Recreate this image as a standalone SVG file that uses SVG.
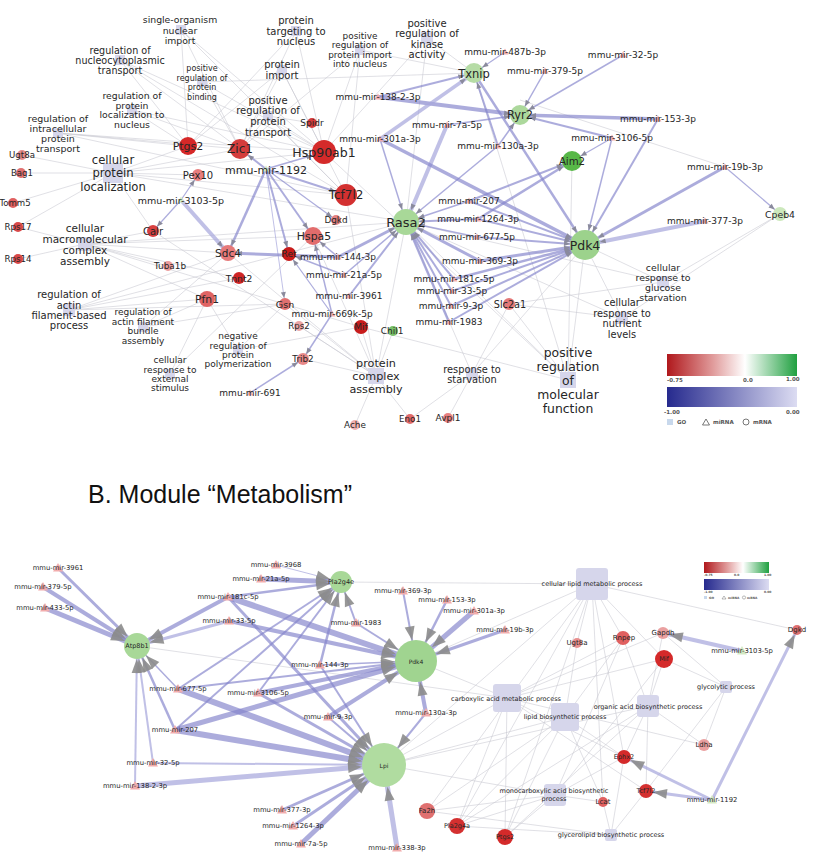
<svg xmlns="http://www.w3.org/2000/svg" xmlns:xlink="http://www.w3.org/1999/xlink" width="813" height="852" viewBox="0 0 813 852">
<style>
.t{font-family:"DejaVu Sans","Liberation Sans",sans-serif;fill:#262626;text-anchor:middle;dominant-baseline:central}
.e{stroke:#c8c8d0;stroke-width:0.7;fill:none;opacity:.8}
.m{stroke:#8484cc;stroke-opacity:.68;fill:none}
.ml{stroke:#a8a8dc;stroke-opacity:.72;fill:none}
.go{fill:#d6d6eb}
.mi{fill:#f2acac}
.mg{fill:#d4e9c4}
.lg{font-family:"DejaVu Sans",sans-serif;font-weight:bold;fill:#555}
</style>
<defs>
<path id="tri" d="M0,-3.5L3.5,2.5H-3.5Z"/>
<path id="triB" d="M0,-5L5,3.5H-5Z"/>
<marker id="t5" markerWidth="6" markerHeight="5" refX="11" refY="2.5" orient="auto" markerUnits="userSpaceOnUse" overflow="visible"><path d="M0,0L6,2.5L0,5z" fill="#8a8a9c"/></marker>
<marker id="t6" markerWidth="6" markerHeight="5" refX="12" refY="2.5" orient="auto" markerUnits="userSpaceOnUse" overflow="visible"><path d="M0,0L6,2.5L0,5z" fill="#8a8a9c"/></marker>
<marker id="t7" markerWidth="6" markerHeight="5" refX="13" refY="2.5" orient="auto" markerUnits="userSpaceOnUse" overflow="visible"><path d="M0,0L6,2.5L0,5z" fill="#8a8a9c"/></marker>
<marker id="t8" markerWidth="6" markerHeight="5" refX="14" refY="2.5" orient="auto" markerUnits="userSpaceOnUse" overflow="visible"><path d="M0,0L6,2.5L0,5z" fill="#8a8a9c"/></marker>
<marker id="t9" markerWidth="6" markerHeight="5" refX="15" refY="2.5" orient="auto" markerUnits="userSpaceOnUse" overflow="visible"><path d="M0,0L6,2.5L0,5z" fill="#8a8a9c"/></marker>
<marker id="t10" markerWidth="6" markerHeight="5" refX="16" refY="2.5" orient="auto" markerUnits="userSpaceOnUse" overflow="visible"><path d="M0,0L6,2.5L0,5z" fill="#8a8a9c"/></marker>
<marker id="t11" markerWidth="6" markerHeight="5" refX="17" refY="2.5" orient="auto" markerUnits="userSpaceOnUse" overflow="visible"><path d="M0,0L6,2.5L0,5z" fill="#8a8a9c"/></marker>
<marker id="t12" markerWidth="6" markerHeight="5" refX="18" refY="2.5" orient="auto" markerUnits="userSpaceOnUse" overflow="visible"><path d="M0,0L6,2.5L0,5z" fill="#8a8a9c"/></marker>
<marker id="t13" markerWidth="6" markerHeight="5" refX="19" refY="2.5" orient="auto" markerUnits="userSpaceOnUse" overflow="visible"><path d="M0,0L6,2.5L0,5z" fill="#8a8a9c"/></marker>
<marker id="t15" markerWidth="6" markerHeight="5" refX="21" refY="2.5" orient="auto" markerUnits="userSpaceOnUse" overflow="visible"><path d="M0,0L6,2.5L0,5z" fill="#8a8a9c"/></marker>
<marker id="b5" markerWidth="14" markerHeight="10" refX="19" refY="5" orient="auto" markerUnits="userSpaceOnUse" overflow="visible"><path d="M0,0L14,5L0,10z" fill="#8c8c8c" fill-opacity=".9"/></marker>
<marker id="b6" markerWidth="14" markerHeight="10" refX="20" refY="5" orient="auto" markerUnits="userSpaceOnUse" overflow="visible"><path d="M0,0L14,5L0,10z" fill="#8c8c8c" fill-opacity=".9"/></marker>
<marker id="b7" markerWidth="14" markerHeight="10" refX="21" refY="5" orient="auto" markerUnits="userSpaceOnUse" overflow="visible"><path d="M0,0L14,5L0,10z" fill="#8c8c8c" fill-opacity=".9"/></marker>
<marker id="b11" markerWidth="14" markerHeight="10" refX="25" refY="5" orient="auto" markerUnits="userSpaceOnUse" overflow="visible"><path d="M0,0L14,5L0,10z" fill="#8c8c8c" fill-opacity=".9"/></marker>
<marker id="b13" markerWidth="14" markerHeight="10" refX="27" refY="5" orient="auto" markerUnits="userSpaceOnUse" overflow="visible"><path d="M0,0L14,5L0,10z" fill="#8c8c8c" fill-opacity=".9"/></marker>
<marker id="b21" markerWidth="14" markerHeight="10" refX="35" refY="5" orient="auto" markerUnits="userSpaceOnUse" overflow="visible"><path d="M0,0L14,5L0,10z" fill="#8c8c8c" fill-opacity=".9"/></marker>
<marker id="b22" markerWidth="14" markerHeight="10" refX="36" refY="5" orient="auto" markerUnits="userSpaceOnUse" overflow="visible"><path d="M0,0L14,5L0,10z" fill="#8c8c8c" fill-opacity=".9"/></marker>
<linearGradient id="rg" x1="0" x2="1" y1="0" y2="0"><stop offset="0" stop-color="#b0181c"/><stop offset=".35" stop-color="#e09a9a"/><stop offset=".6" stop-color="#ffffff"/><stop offset="1" stop-color="#20a040"/></linearGradient>
<linearGradient id="bg" x1="0" x2="1" y1="0" y2="0"><stop offset="0" stop-color="#262a8e"/><stop offset="1" stop-color="#dcdcf2"/></linearGradient>
</defs>
<rect width="813" height="852" fill="#ffffff"/>

<g id="connectors">
<path class="e" d="M181,30L240,149M181,30L324,152M181,30L188,146M181,30L346,195M120,60L240,149M120,60L324,152M120,60L188,146M120,60L346,195M202,82L324,152M202,82L240,149M202,82L474,73M132,110L240,149M132,110L324,152M132,110L188,146M58,133L240,149M58,133L324,152M58,133L346,195M58,133L188,146"/>
<path class="e" d="M113,173L22,155M113,173L21,173M113,173L13,203M113,173L188,146M113,173L240,149M113,173L198,175M113,173L324,152M113,173L346,195M113,173L406,222M113,173L153,231M113,173L18,227"/>
<path class="e" d="M296,31L324,152M296,31L240,149M296,31L188,146M360,50L324,152M360,50L240,149M360,50L474,73M360,50L346,195M427,38L474,73M427,38L324,152M427,38L406,222M282,70L324,152M282,70L240,149M282,70L188,146M282,70L346,195M268,116L324,152M268,116L240,149M268,116L312,123M268,116L346,195"/>
<path class="e" d="M85,244L18,227M85,244L18,259M85,244L153,231M85,244L228,253M85,244L168,266M85,244L207,299M85,244L313,236M85,244L239,278M85,244L361,327M85,244L406,222M69,310L207,299M69,310L228,253M69,310L285,304M69,310L239,278M69,310L406,222M143,327L207,299M143,327L285,304M143,327L228,253M238,350L207,299M238,350L285,304M238,350L361,327M170,374L207,299M170,374L313,236"/>
<path class="e" d="M376,376L361,327M376,376L393,331M376,376L355,425M376,376L410,419M376,376L313,236M376,376L346,195M376,376L406,222M376,376L285,304M376,376L303,359M376,376L228,253M376,376L153,231M376,376L299,326M472,374L585,245M472,374L509,304M472,374L448,418M472,374L410,419M472,374L406,222M663,282L585,245M663,282L780,214M663,282L509,304M663,282L406,222M622,318L585,245M622,318L509,304M622,318L780,214M622,318L406,222M568,380L585,245M568,380L406,222M568,380L572,161M568,380L509,304M568,380L361,327M568,380L474,73M568,380L324,152M520,100L725,167"/>
<line class="m" x1="505" y1="52" x2="474" y2="73" stroke-width="1.2" marker-end="url(#t10)"/>
<line class="m" x1="545" y1="71" x2="520" y2="115" stroke-width="1.5" marker-end="url(#t10)"/>
<line class="m" x1="623" y1="55" x2="520" y2="115" stroke-width="1.5" marker-end="url(#t10)"/>
<line class="m" x1="658" y1="119" x2="520" y2="115" stroke-width="3.5" marker-end="url(#t10)"/>
<line class="m" x1="658" y1="119" x2="585" y2="245" stroke-width="2" marker-end="url(#t15)"/>
<line class="m" x1="612" y1="138" x2="572" y2="161" stroke-width="1.2" marker-end="url(#t10)"/>
<line class="m" x1="612" y1="138" x2="520" y2="115" stroke-width="2" marker-end="url(#t10)"/>
<line class="m" x1="612" y1="138" x2="585" y2="245" stroke-width="1.5" marker-end="url(#t15)"/>
<line class="m" x1="725" y1="167" x2="780" y2="214" stroke-width="1.2" marker-end="url(#t7)"/>
<line class="m" x1="725" y1="167" x2="585" y2="245" stroke-width="3" marker-end="url(#t15)"/>
<line class="ml" x1="705" y1="221" x2="585" y2="245" stroke-width="4" marker-end="url(#t15)"/>
<line class="m" x1="378" y1="97" x2="474" y2="73" stroke-width="2" marker-end="url(#t10)"/>
<line class="m" x1="378" y1="97" x2="520" y2="115" stroke-width="4" marker-end="url(#t10)"/>
<line class="m" x1="447" y1="125" x2="520" y2="115" stroke-width="1.5" marker-end="url(#t10)"/>
<line class="ml" x1="447" y1="125" x2="406" y2="222" stroke-width="4" marker-end="url(#t13)"/>
<line class="ml" x1="380" y1="139" x2="474" y2="73" stroke-width="3.5" marker-end="url(#t10)"/>
<line class="m" x1="380" y1="139" x2="406" y2="222" stroke-width="1.5" marker-end="url(#t13)"/>
<line class="m" x1="380" y1="139" x2="585" y2="245" stroke-width="3.5" marker-end="url(#t15)"/>
<line class="m" x1="498" y1="146" x2="474" y2="73" stroke-width="2" marker-end="url(#t10)"/>
<line class="m" x1="498" y1="146" x2="520" y2="115" stroke-width="1.5" marker-end="url(#t10)"/>
<line class="m" x1="498" y1="146" x2="406" y2="222" stroke-width="1.5" marker-end="url(#t13)"/>
<line class="m" x1="474" y1="73" x2="585" y2="245" stroke-width="2.5" marker-end="url(#t15)"/>
<line class="m" x1="266" y1="169" x2="240" y2="149" stroke-width="2" marker-end="url(#t10)"/>
<line class="m" x1="266" y1="169" x2="324" y2="152" stroke-width="1.5" marker-end="url(#t12)"/>
<line class="m" x1="266" y1="169" x2="346" y2="195" stroke-width="2" marker-end="url(#t11)"/>
<line class="m" x1="266" y1="169" x2="313" y2="236" stroke-width="2" marker-end="url(#t9)"/>
<line class="m" x1="266" y1="169" x2="289" y2="254" stroke-width="2" marker-end="url(#t7)"/>
<line class="m" x1="266" y1="169" x2="228" y2="253" stroke-width="2.5" marker-end="url(#t8)"/>
<line class="m" x1="266" y1="169" x2="336" y2="220" stroke-width="1.2" marker-end="url(#t5)"/>
<line class="ml" x1="266" y1="169" x2="285" y2="304" stroke-width="1" marker-end="url(#t6)"/>
<line class="m" x1="181" y1="200" x2="153" y2="231" stroke-width="1.2" marker-end="url(#t6)"/>
<line class="ml" x1="181" y1="200" x2="228" y2="253" stroke-width="4" marker-end="url(#t8)"/>
<line class="m" x1="181" y1="200" x2="198" y2="175" stroke-width="1.2" marker-end="url(#t6)"/>
<line class="m" x1="469" y1="201" x2="406" y2="222" stroke-width="1.5" marker-end="url(#t13)"/>
<line class="m" x1="469" y1="201" x2="572" y2="161" stroke-width="2" marker-end="url(#t10)"/>
<line class="m" x1="469" y1="201" x2="585" y2="245" stroke-width="2" marker-end="url(#t15)"/>
<line class="m" x1="478" y1="219" x2="406" y2="222" stroke-width="2" marker-end="url(#t13)"/>
<line class="m" x1="478" y1="219" x2="572" y2="161" stroke-width="2.5" marker-end="url(#t10)"/>
<line class="m" x1="478" y1="219" x2="585" y2="245" stroke-width="2" marker-end="url(#t15)"/>
<line class="m" x1="477" y1="237" x2="406" y2="222" stroke-width="1.5" marker-end="url(#t13)"/>
<line class="m" x1="477" y1="237" x2="585" y2="245" stroke-width="2" marker-end="url(#t15)"/>
<line class="m" x1="480" y1="261" x2="406" y2="222" stroke-width="3" marker-end="url(#t13)"/>
<line class="m" x1="480" y1="261" x2="585" y2="245" stroke-width="3" marker-end="url(#t15)"/>
<line class="m" x1="454" y1="279" x2="406" y2="222" stroke-width="2" marker-end="url(#t13)"/>
<line class="m" x1="454" y1="279" x2="585" y2="245" stroke-width="2.5" marker-end="url(#t15)"/>
<line class="m" x1="452" y1="291" x2="406" y2="222" stroke-width="2" marker-end="url(#t13)"/>
<line class="m" x1="452" y1="291" x2="585" y2="245" stroke-width="2" marker-end="url(#t15)"/>
<line class="m" x1="451" y1="306" x2="406" y2="222" stroke-width="2" marker-end="url(#t13)"/>
<line class="m" x1="451" y1="306" x2="585" y2="245" stroke-width="2" marker-end="url(#t15)"/>
<line class="m" x1="449" y1="322" x2="406" y2="222" stroke-width="2.5" marker-end="url(#t13)"/>
<line class="m" x1="449" y1="322" x2="585" y2="245" stroke-width="2" marker-end="url(#t15)"/>
<line class="m" x1="338" y1="257" x2="406" y2="222" stroke-width="3" marker-end="url(#t13)"/>
<line class="m" x1="338" y1="257" x2="313" y2="236" stroke-width="1.5" marker-end="url(#t9)"/>
<line class="m" x1="338" y1="257" x2="228" y2="253" stroke-width="3" marker-end="url(#t8)"/>
<line class="m" x1="344" y1="275" x2="406" y2="222" stroke-width="1.5" marker-end="url(#t13)"/>
<line class="m" x1="344" y1="275" x2="289" y2="254" stroke-width="1.5" marker-end="url(#t7)"/>
<line class="m" x1="349" y1="296" x2="406" y2="222" stroke-width="2" marker-end="url(#t13)"/>
<line class="m" x1="332" y1="314" x2="313" y2="236" stroke-width="1.5" marker-end="url(#t9)"/>
<line class="m" x1="332" y1="314" x2="303" y2="359" stroke-width="1.5" marker-end="url(#t6)"/>
<line class="m" x1="332" y1="314" x2="289" y2="254" stroke-width="1.2" marker-end="url(#t7)"/>
<line class="m" x1="250" y1="393" x2="303" y2="359" stroke-width="1.5" marker-end="url(#t6)"/>
<path class="e" d="M592,584L341,582M592,584L797,630M592,584L577,643M592,584L623,638M592,584L664,659M592,584L624,757M592,584L603,802M592,584L457,826M592,584L505,837M592,584L427,811M592,584L416,661M592,584L384,765"/>
<path class="e" d="M507,698L416,661M507,698L384,765M507,698L664,659M507,698L623,638M507,698L663,633M507,698L505,837M507,698L646,791M507,698L704,745M507,698L624,757M507,698L457,826M507,698L137,646"/>
<path class="e" d="M565,717L427,811M565,717L457,826M565,717L505,837M565,717L603,802M565,717L577,643M565,717L624,757M565,717L623,638M565,717L384,765M648,706L624,757M648,706L646,791M648,706L664,659M648,706L505,837M648,706L457,826M648,706L704,745M648,706L384,765M648,706L663,633M648,706L623,638"/>
<path class="e" d="M726,687L663,633M726,687L704,745M726,687L664,659M726,687L646,791M555,795L505,837M555,795L457,826M555,795L624,757M555,795L664,659M555,795L603,802M555,795L384,765M555,795L623,638M555,795L427,811M611,835L603,802M611,835L457,826M611,835L646,791M611,835L624,757M611,835L427,811"/>
<line class="m" x1="58" y1="568" x2="137" y2="646" stroke-width="3" marker-end="url(#b13)"/>
<line class="m" x1="43" y1="587" x2="137" y2="646" stroke-width="4" marker-end="url(#b13)"/>
<line class="m" x1="45" y1="608" x2="137" y2="646" stroke-width="5" marker-end="url(#b13)"/>
<line class="m" x1="228" y1="597" x2="137" y2="646" stroke-width="4" marker-end="url(#b13)"/>
<line class="ml" x1="229" y1="621" x2="137" y2="646" stroke-width="3" marker-end="url(#b13)"/>
<line class="m" x1="178" y1="689" x2="137" y2="646" stroke-width="1.5" marker-end="url(#b13)"/>
<line class="m" x1="175" y1="730" x2="137" y2="646" stroke-width="2.5" marker-end="url(#b13)"/>
<line class="ml" x1="153" y1="763" x2="137" y2="646" stroke-width="2" marker-end="url(#b13)"/>
<line class="ml" x1="135" y1="786" x2="137" y2="646" stroke-width="2" marker-end="url(#b13)"/>
<line class="ml" x1="276" y1="565" x2="341" y2="582" stroke-width="1" marker-end="url(#b11)"/>
<line class="m" x1="261" y1="579" x2="341" y2="582" stroke-width="5" marker-end="url(#b11)"/>
<line class="m" x1="228" y1="597" x2="341" y2="582" stroke-width="2.5" marker-end="url(#b11)"/>
<line class="m" x1="356" y1="623" x2="341" y2="582" stroke-width="2" marker-end="url(#b11)"/>
<line class="m" x1="320" y1="665" x2="341" y2="582" stroke-width="2.5" marker-end="url(#b11)"/>
<line class="m" x1="178" y1="689" x2="341" y2="582" stroke-width="2" marker-end="url(#b11)"/>
<line class="m" x1="175" y1="730" x2="341" y2="582" stroke-width="2" marker-end="url(#b11)"/>
<line class="m" x1="258" y1="693" x2="341" y2="582" stroke-width="2" marker-end="url(#b11)"/>
<line class="m" x1="403" y1="591" x2="416" y2="661" stroke-width="2" marker-end="url(#b21)"/>
<line class="m" x1="447" y1="600" x2="416" y2="661" stroke-width="2.5" marker-end="url(#b21)"/>
<line class="m" x1="474" y1="611" x2="416" y2="661" stroke-width="5" marker-end="url(#b21)"/>
<line class="m" x1="505" y1="630" x2="416" y2="661" stroke-width="3" marker-end="url(#b21)"/>
<line class="m" x1="356" y1="623" x2="416" y2="661" stroke-width="2" marker-end="url(#b21)"/>
<line class="m" x1="228" y1="597" x2="416" y2="661" stroke-width="6" marker-end="url(#b21)"/>
<line class="m" x1="229" y1="621" x2="416" y2="661" stroke-width="4" marker-end="url(#b21)"/>
<line class="m" x1="258" y1="693" x2="416" y2="661" stroke-width="4" marker-end="url(#b21)"/>
<line class="m" x1="178" y1="689" x2="416" y2="661" stroke-width="2" marker-end="url(#b21)"/>
<line class="m" x1="175" y1="730" x2="416" y2="661" stroke-width="5" marker-end="url(#b21)"/>
<line class="m" x1="328" y1="717" x2="416" y2="661" stroke-width="4" marker-end="url(#b21)"/>
<line class="m" x1="426" y1="713" x2="416" y2="661" stroke-width="4" marker-end="url(#b21)"/>
<line class="m" x1="320" y1="665" x2="416" y2="661" stroke-width="1.5" marker-end="url(#b21)"/>
<line class="m" x1="426" y1="713" x2="384" y2="765" stroke-width="2" marker-end="url(#b22)"/>
<line class="m" x1="328" y1="717" x2="384" y2="765" stroke-width="2" marker-end="url(#b22)"/>
<line class="m" x1="320" y1="665" x2="384" y2="765" stroke-width="2" marker-end="url(#b22)"/>
<line class="m" x1="258" y1="693" x2="384" y2="765" stroke-width="3" marker-end="url(#b22)"/>
<line class="m" x1="178" y1="689" x2="384" y2="765" stroke-width="6" marker-end="url(#b22)"/>
<line class="m" x1="175" y1="730" x2="384" y2="765" stroke-width="6" marker-end="url(#b22)"/>
<line class="ml" x1="153" y1="763" x2="384" y2="765" stroke-width="2" marker-end="url(#b22)"/>
<line class="ml" x1="135" y1="786" x2="384" y2="765" stroke-width="5" marker-end="url(#b22)"/>
<line class="m" x1="282" y1="810" x2="384" y2="765" stroke-width="3" marker-end="url(#b22)"/>
<line class="m" x1="293" y1="826" x2="384" y2="765" stroke-width="3" marker-end="url(#b22)"/>
<line class="m" x1="301" y1="844" x2="384" y2="765" stroke-width="5" marker-end="url(#b22)"/>
<line class="ml" x1="397" y1="848" x2="384" y2="765" stroke-width="5" marker-end="url(#b22)"/>
<line class="m" x1="228" y1="597" x2="384" y2="765" stroke-width="3" marker-end="url(#b22)"/>
<line class="ml" x1="742" y1="651" x2="663" y2="633" stroke-width="4" marker-end="url(#b6)"/>
<line class="ml" x1="712" y1="800" x2="797" y2="630" stroke-width="3" marker-end="url(#b5)"/>
<line class="ml" x1="712" y1="800" x2="624" y2="757" stroke-width="3" marker-end="url(#b7)"/>
<line class="ml" x1="712" y1="800" x2="646" y2="791" stroke-width="3" marker-end="url(#b7)"/>
</g>

<g id="go-single-organism-nuclear-import"><rect class="go" x="176" y="25" width="10" height="10"/><text class="t" font-size="9.3"><tspan x="180" y="19">single-organism</tspan><tspan x="180" y="29.5">nuclear</tspan><tspan x="180" y="40">import</tspan></text></g>
<g id="go-regulation-of-nucleocytoplasmic-transport"><rect class="go" x="115" y="55" width="10" height="10"/><text class="t" font-size="9.6"><tspan x="120" y="50">regulation of</tspan><tspan x="120" y="60">nucleocytoplasmic</tspan><tspan x="120" y="70">transport</tspan></text></g>
<g id="go-positive-regulation-of-protein-binding"><rect class="go" x="197" y="77" width="10" height="10"/><text class="t" font-size="8"><tspan x="202" y="68">positive</tspan><tspan x="202" y="77.5">regulation of</tspan><tspan x="202" y="87">protein</tspan><tspan x="202" y="97">binding</tspan></text></g>
<g id="go-regulation-of-protein-localization-to-nucleus"><rect class="go" x="127" y="105" width="10" height="10"/><text class="t" font-size="9.3"><tspan x="132" y="95">regulation of</tspan><tspan x="132" y="104.5">protein</tspan><tspan x="132" y="114">localization to</tspan><tspan x="132" y="124">nucleus</tspan></text></g>
<g id="go-regulation-of-intracellular-protein-transport"><rect class="go" x="53" y="128" width="10" height="10"/><text class="t" font-size="9.5"><tspan x="58" y="118">regulation of</tspan><tspan x="58" y="128">intracellular</tspan><tspan x="58" y="138">protein</tspan><tspan x="58" y="148">transport</tspan></text></g>
<g id="go-cellular-protein-localization"><rect class="go" x="103" y="163" width="20" height="20"/><text class="t" font-size="11.6"><tspan x="113" y="159.5">cellular</tspan><tspan x="113" y="173">protein</tspan><tspan x="113" y="186.5">localization</tspan></text></g>
<g id="go-protein-targeting-to-nucleus"><rect class="go" x="291" y="26" width="10" height="10"/><text class="t" font-size="10"><tspan x="296" y="20">protein</tspan><tspan x="296" y="31">targeting to</tspan><tspan x="296" y="41">nucleus</tspan></text></g>
<g id="go-positive-regulation-of-protein-import-into-nucleus"><rect class="go" x="355" y="45" width="10" height="10"/><text class="t" font-size="8.9"><tspan x="360" y="36">positive</tspan><tspan x="360" y="45">regulation of</tspan><tspan x="360" y="55">protein import</tspan><tspan x="360" y="64">into nucleus</tspan></text></g>
<g id="go-positive-regulation-of-kinase-activity"><rect class="go" x="421" y="32" width="12" height="12"/><text class="t" font-size="10"><tspan x="427" y="23">positive</tspan><tspan x="427" y="33">regulation of</tspan><tspan x="427" y="44">kinase</tspan><tspan x="427" y="54">activity</tspan></text></g>
<g id="go-protein-import"><rect class="go" x="277" y="65" width="10" height="10"/><text class="t" font-size="10"><tspan x="282" y="64">protein</tspan><tspan x="282" y="75">import</tspan></text></g>
<g id="go-positive-regulation-of-protein-transport"><rect class="go" x="263" y="111" width="10" height="10"/><text class="t" font-size="10"><tspan x="268" y="100">positive</tspan><tspan x="268" y="110">regulation of</tspan><tspan x="268" y="121">protein</tspan><tspan x="268" y="132">transport</tspan></text></g>
<g id="go-cellular-macromolecular-complex-assembly"><rect class="go" x="78" y="237" width="14" height="14"/><text class="t" font-size="10.5"><tspan x="85" y="228">cellular</tspan><tspan x="85" y="239">macromolecular</tspan><tspan x="85" y="250">complex</tspan><tspan x="85" y="261">assembly</tspan></text></g>
<g id="go-regulation-of-actin-filament-based-process"><rect class="go" x="63" y="304" width="12" height="12"/><text class="t" font-size="10"><tspan x="69" y="294">regulation of</tspan><tspan x="69" y="305">actin</tspan><tspan x="69" y="315">filament-based</tspan><tspan x="69" y="325">process</tspan></text></g>
<g id="go-regulation-of-actin-filament-bundle-assembly"><rect class="go" x="138" y="322" width="10" height="10"/><text class="t" font-size="9"><tspan x="143" y="312">regulation of</tspan><tspan x="143" y="322">actin filament</tspan><tspan x="143" y="331">bundle</tspan><tspan x="143" y="341">assembly</tspan></text></g>
<g id="go-negative-regulation-of-protein-polymerization"><rect class="go" x="233" y="345" width="10" height="10"/><text class="t" font-size="9"><tspan x="238" y="336">negative</tspan><tspan x="238" y="346">regulation of</tspan><tspan x="238" y="355">protein</tspan><tspan x="238" y="364">polymerization</tspan></text></g>
<g id="go-cellular-response-to-external-stimulus"><rect class="go" x="165" y="369" width="10" height="10"/><text class="t" font-size="9"><tspan x="170" y="360">cellular</tspan><tspan x="170" y="370">response to</tspan><tspan x="170" y="379">external</tspan><tspan x="170" y="388">stimulus</tspan></text></g>
<g id="go-protein-complex-assembly"><rect class="go" x="368" y="368" width="16" height="16"/><text class="t" font-size="11.2"><tspan x="376" y="363">protein</tspan><tspan x="376" y="376">complex</tspan><tspan x="376" y="389">assembly</tspan></text></g>
<g id="go-response-to-starvation"><rect class="go" x="466" y="368" width="12" height="12"/><text class="t" font-size="9.8"><tspan x="472" y="369">response to</tspan><tspan x="472" y="379">starvation</tspan></text></g>
<g id="go-cellular-response-to-glucose-starvation"><rect class="go" x="657" y="276" width="12" height="12"/><text class="t" font-size="9.4"><tspan x="663" y="267">cellular</tspan><tspan x="663" y="277">response to</tspan><tspan x="663" y="287">glucose</tspan><tspan x="663" y="297">starvation</tspan></text></g>
<g id="go-cellular-response-to-nutrient-levels"><rect class="go" x="616" y="312" width="12" height="12"/><text class="t" font-size="9.8"><tspan x="622" y="302">cellular</tspan><tspan x="622" y="313">response to</tspan><tspan x="622" y="323">nutrient</tspan><tspan x="622" y="334">levels</tspan></text></g>
<g id="go-positive-regulation-of-molecular-function"><rect class="go" x="560" y="372" width="16" height="16"/><text class="t" font-size="12.4"><tspan x="568" y="352">positive</tspan><tspan x="568" y="366">regulation</tspan><tspan x="568" y="380">of</tspan><tspan x="568" y="393.5">molecular</tspan><tspan x="568" y="407.5">function</tspan></text></g>

<g id="n-Ugt8a"><circle cx="22" cy="155" r="5" fill="#e48a8a"/><text class="t" x="22" y="155" font-size="8.6">Ugt8a</text></g>
<g id="n-Bag1"><circle cx="21" cy="173" r="5" fill="#e07070"/><text class="t" x="22" y="173" font-size="8.6">Bag1</text></g>
<g id="n-Tomm5"><circle cx="13" cy="203" r="5" fill="#e06060"/><text class="t" x="15" y="203" font-size="8.6">Tomm5</text></g>
<g id="n-Rps17"><circle cx="18" cy="227" r="5" fill="#d84848"/><text class="t" x="18" y="227" font-size="8.7">Rps17</text></g>
<g id="n-Rps14"><circle cx="18" cy="259" r="5" fill="#d84848"/><text class="t" x="18" y="259" font-size="8.7">Rps14</text></g>
<g id="n-Ptgs2"><circle cx="188" cy="146" r="9" fill="#d62828"/><text class="t" x="188" y="146" font-size="11">Ptgs2</text></g>
<g id="n-Zic1"><circle cx="240" cy="149" r="10" fill="#d43c3c"/><text class="t" x="240" y="149" font-size="12">Zic1</text></g>
<g id="n-Pex10"><circle cx="198" cy="175" r="6" fill="#e87e7e"/><text class="t" x="198" y="175" font-size="10">Pex10</text></g>
<g id="n-Calr"><circle cx="153" cy="231" r="6" fill="#d84040"/><text class="t" x="153" y="231" font-size="10">Calr</text></g>
<g id="n-Sdc4"><circle cx="228" cy="253" r="8" fill="#e67a7a"/><text class="t" x="228" y="253" font-size="10.5">Sdc4</text></g>
<g id="n-Tuba1b"><circle cx="168" cy="266" r="5" fill="#eb9a9a"/><text class="t" x="170" y="266" font-size="8.9">Tuba1b</text></g>
<g id="n-Tnnt2"><circle cx="239" cy="278" r="6" fill="#cf2525"/><text class="t" x="239" y="278" font-size="9.2">Tnnt2</text></g>
<g id="n-Pfn1"><circle cx="207" cy="299" r="8" fill="#e06464"/><text class="t" x="207" y="299" font-size="10.8">Pfn1</text></g>
<g id="n-Spidr"><circle cx="312" cy="123" r="5" fill="#d43a3a"/><text class="t" x="312" y="123" font-size="9">Spidr</text></g>
<g id="n-Hsp90ab1"><circle cx="324" cy="152" r="12" fill="#d42a2a"/><text class="t" x="324" y="152" font-size="12.5">Hsp90ab1</text></g>
<g id="n-Tcf7l2"><circle cx="346" cy="195" r="11" fill="#d33030"/><text class="t" x="346" y="195" font-size="12">Tcf7l2</text></g>
<g id="n-Dgkd"><circle cx="336" cy="220" r="5" fill="#e48080"/><text class="t" x="336" y="220" font-size="8.9">Dgkd</text></g>
<g id="n-Hspa5"><circle cx="313" cy="236" r="9" fill="#e26c6c"/><text class="t" x="314" y="236" font-size="10.9">Hspa5</text></g>
<g id="n-Ret"><circle cx="289" cy="254" r="7" fill="#c81c1c"/><text class="t" x="289" y="254" font-size="9">Ret</text></g>
<g id="n-Gsn"><circle cx="285" cy="304" r="6" fill="#e07070"/><text class="t" x="285" y="304" font-size="9.5">Gsn</text></g>
<g id="n-Rps2"><circle cx="299" cy="326" r="5" fill="#eba4a4"/><text class="t" x="299" y="326" font-size="8.6">Rps2</text></g>
<g id="n-Mif"><circle cx="361" cy="327" r="7" fill="#c81c1c"/><text class="t" x="361" y="327" font-size="9">Mif</text></g>
<g id="n-Chil1"><circle cx="393" cy="331" r="5" fill="#78c068"/><text class="t" x="392" y="331" font-size="9">Chil1</text></g>
<g id="n-Trib2"><circle cx="303" cy="359" r="6" fill="#e88888"/><text class="t" x="303" y="359" font-size="8.8">Trib2</text></g>
<g id="n-Slc2a1"><circle cx="509" cy="304" r="6" fill="#e47878"/><text class="t" x="510" y="304" font-size="9.7">Slc2a1</text></g>
<g id="n-Ache"><circle cx="355" cy="425" r="5" fill="#f0b0b0"/><text class="t" x="355" y="425" font-size="8.9">Ache</text></g>
<g id="n-Eno1"><circle cx="410" cy="419" r="5" fill="#e06a6a"/><text class="t" x="410" y="419" font-size="8.7">Eno1</text></g>
<g id="n-Avpl1"><circle cx="448" cy="418" r="5" fill="#e88080"/><text class="t" x="448" y="418" font-size="9">Avpl1</text></g>
<g id="n-Txnip"><circle cx="474" cy="73" r="10" fill="#b6dca6"/><text class="t" x="474" y="74" font-size="11.5">Txnip</text></g>
<g id="n-Ryr2"><circle cx="520" cy="115" r="10" fill="#acd89c"/><text class="t" x="520" y="115" font-size="11.4">Ryr2</text></g>
<g id="n-Aim2"><circle cx="572" cy="161" r="10" fill="#58b848"/><text class="t" x="572" y="161" font-size="10.2">Aim2</text></g>
<g id="n-Rasa2"><circle cx="406" cy="222" r="13" fill="#a8d898"/><text class="t" x="406" y="222" font-size="13">Rasa2</text></g>
<g id="n-Pdk4"><circle cx="585" cy="245" r="15" fill="#9cd28c"/><text class="t" x="585" y="245" font-size="12.5">Pdk4</text></g>
<g id="n-Cpeb4"><circle cx="780" cy="214" r="7" fill="#cce8bc"/><text class="t" x="780" y="214" font-size="9.3">Cpeb4</text></g>

<g id="mi-487b-3p"><use href="#tri" x="505" y="52" class="mi"/><text class="t" x="505" y="52" font-size="9">mmu-mir-487b-3p</text></g>
<g id="mi-379-5p"><use href="#tri" x="545" y="71" class="mi"/><text class="t" x="545" y="71" font-size="9">mmu-mir-379-5p</text></g>
<g id="mi-32-5p"><use href="#tri" x="623" y="55" class="mi"/><text class="t" x="623" y="55" font-size="9">mmu-mir-32-5p</text></g>
<g id="mi-153-3p"><use href="#tri" x="658" y="119" class="mi"/><text class="t" x="658" y="119" font-size="9">mmu-mir-153-3p</text></g>
<g id="mi-3106-5p"><use href="#tri" x="612" y="138" class="mi"/><text class="t" x="612" y="138" font-size="9">mmu-mir-3106-5p</text></g>
<g id="mi-19b-3p"><use href="#tri" x="725" y="167" class="mi"/><text class="t" x="725" y="167" font-size="9">mmu-mir-19b-3p</text></g>
<g id="mi-377-3p"><use href="#tri" x="705" y="221" class="mi"/><text class="t" x="705" y="221" font-size="9">mmu-mir-377-3p</text></g>
<g id="mi-138-2-3p"><use href="#tri" x="378" y="97" class="mi"/><text class="t" x="378" y="97" font-size="9">mmu-mir-138-2-3p</text></g>
<g id="mi-7a-5p"><use href="#tri" x="447" y="125" class="mi"/><text class="t" x="447" y="125" font-size="9">mmu-mir-7a-5p</text></g>
<g id="mi-301a-3p"><use href="#tri" x="380" y="139" class="mi"/><text class="t" x="380" y="139" font-size="9">mmu-mir-301a-3p</text></g>
<g id="mi-130a-3p"><use href="#tri" x="498" y="146" class="mi"/><text class="t" x="498" y="146" font-size="9">mmu-mir-130a-3p</text></g>
<g id="mi-1192"><use href="#tri" x="266" y="169" class="mg"/><text class="t" x="266" y="170" font-size="11">mmu-mir-1192</text></g>
<g id="mi-3103-5p"><use href="#tri" x="181" y="200" class="mg"/><text class="t" x="181" y="200" font-size="9.5">mmu-mir-3103-5p</text></g>
<g id="mi-207"><use href="#tri" x="469" y="201" class="mi"/><text class="t" x="469" y="201" font-size="9">mmu-mir-207</text></g>
<g id="mi-1264-3p"><use href="#tri" x="478" y="219" class="mi"/><text class="t" x="478" y="219" font-size="9">mmu-mir-1264-3p</text></g>
<g id="mi-677-5p"><use href="#tri" x="477" y="237" class="mi"/><text class="t" x="477" y="237" font-size="9">mmu-mir-677-5p</text></g>
<g id="mi-369-3p"><use href="#tri" x="480" y="261" class="mi"/><text class="t" x="480" y="261" font-size="9">mmu-mir-369-3p</text></g>
<g id="mi-181c-5p"><use href="#tri" x="454" y="279" class="mi"/><text class="t" x="454" y="279" font-size="9">mmu-mir-181c-5p</text></g>
<g id="mi-33-5p"><use href="#tri" x="452" y="291" class="mi"/><text class="t" x="452" y="291" font-size="9">mmu-mir-33-5p</text></g>
<g id="mi-9-3p"><use href="#tri" x="451" y="306" class="mi"/><text class="t" x="451" y="306" font-size="9">mmu-mir-9-3p</text></g>
<g id="mi-1983"><use href="#tri" x="449" y="322" class="mi"/><text class="t" x="449" y="322" font-size="9">mmu-mir-1983</text></g>
<g id="mi-144-3p"><use href="#tri" x="338" y="257" class="mi"/><text class="t" x="338" y="257" font-size="9">mmu-mir-144-3p</text></g>
<g id="mi-21a-5p"><use href="#tri" x="344" y="275" class="mi"/><text class="t" x="344" y="275" font-size="9">mmu-mir-21a-5p</text></g>
<g id="mi-3961"><use href="#tri" x="349" y="296" class="mi"/><text class="t" x="349" y="296" font-size="9">mmu-mir-3961</text></g>
<g id="mi-669k-5p"><use href="#tri" x="332" y="314" class="mi"/><text class="t" x="332" y="314" font-size="9">mmu-mir-669k-5p</text></g>
<g id="mi-691"><use href="#tri" x="250" y="393" class="mi"/><text class="t" x="250" y="393" font-size="9">mmu-mir-691</text></g>

<g id="legend-top">
<rect x="667" y="354" width="130" height="22" fill="url(#rg)"/>
<text class="lg" x="667" y="382" font-size="5.5">-0.75</text>
<text class="lg" x="743" y="382" font-size="5.5">0.0</text>
<text class="lg" x="786" y="381" font-size="5.5">1.00</text>
<rect x="667" y="387" width="130" height="20" fill="url(#bg)"/>
<text class="lg" x="664" y="414" font-size="5.5">-1.00</text>
<text class="lg" x="786" y="414" font-size="5.5">0.00</text>
<rect x="667" y="419" width="6" height="6" fill="#c8d8ec"/>
<text class="lg" x="677" y="424" font-size="5.5">GO</text>
<path d="M706,419L709.5,425H702.5Z" fill="none" stroke="#555" stroke-width=".8"/>
<text class="lg" x="713" y="424" font-size="5.5">miRNA</text>
<circle cx="746" cy="422" r="3" fill="none" stroke="#555" stroke-width=".8"/>
<text class="lg" x="753" y="424" font-size="5.5">mRNA</text>
</g>

<text id="title-b" x="88" y="503" font-family="'Liberation Sans',Arial,sans-serif" font-size="25" fill="#111">B. Module “Metabolism”</text>

<g id="goB-cellular-lipid-metabolic-process"><rect class="go" x="576" y="568" width="32" height="32" rx="3"/><text class="t" x="592" y="584" font-size="6.5">cellular lipid metabolic process</text></g>
<g id="goB-carboxylic-acid-metabolic-process"><rect class="go" x="493" y="684" width="28" height="28" rx="3"/><text class="t" x="506" y="699" font-size="6.5">carboxylic acid metabolic process</text></g>
<g id="goB-lipid-biosynthetic-process"><rect class="go" x="551" y="703" width="28" height="28" rx="3"/><text class="t" x="565" y="717" font-size="6.5">lipid biosynthetic process</text></g>
<g id="goB-organic-acid-biosynthetic-process"><rect class="go" x="637" y="695" width="22" height="22" rx="3"/><text class="t" x="648" y="707" font-size="6.5">organic acid biosynthetic process</text></g>
<g id="goB-glycolytic-process"><rect class="go" x="720" y="681" width="12" height="12" rx="2"/><text class="t" x="726" y="687" font-size="6.5">glycolytic process</text></g>
<g id="goB-monocarboxylic-acid-biosynthetic-process"><rect class="go" x="544" y="784" width="22" height="22" rx="3"/><text class="t" font-size="6.5"><tspan x="554" y="791">monocarboxylic acid biosynthetic</tspan><tspan x="554" y="799">process</tspan></text></g>
<g id="goB-glycerolipid-biosynthetic-process"><rect class="go" x="605" y="829" width="12" height="12" rx="2"/><text class="t" x="611" y="835" font-size="6.5">glycerolipid biosynthetic process</text></g>

<g id="nB-Atp8b1"><circle cx="137" cy="646" r="13" fill="#a8d898"/><text class="t" x="137" y="646" font-size="6.5">Atp8b1</text></g>
<g id="nB-Pla2g4e"><circle cx="341" cy="582" r="11" fill="#a8d898"/><text class="t" x="341" y="582" font-size="6.5">Pla2g4e</text></g>
<g id="nB-Pdk4"><circle cx="416" cy="661" r="21" fill="#a0d490"/><text class="t" x="416" y="661" font-size="6">Pdk4</text></g>
<g id="nB-Lpi"><circle cx="384" cy="765" r="22" fill="#b0dca0"/><text class="t" x="384" y="765" font-size="6">Lpi</text></g>
<g id="nB-Ugt8a"><circle cx="577" cy="643" r="5" fill="#e89090"/><text class="t" x="577" y="643" font-size="7">Ugt8a</text></g>
<g id="nB-Rnpep"><circle cx="623" cy="638" r="7" fill="#e06060"/><text class="t" x="624" y="638" font-size="7">Rnpep</text></g>
<g id="nB-Gapdh"><circle cx="663" cy="633" r="6" fill="#eaa0a0"/><text class="t" x="663" y="633" font-size="7">Gapdh</text></g>
<g id="nB-Mif"><circle cx="664" cy="659" r="9" fill="#d42a2a"/><text class="t" x="664" y="659" font-size="6.5">Mif</text></g>
<g id="nB-Dgkd"><circle cx="797" cy="630" r="5" fill="#e07070"/><text class="t" x="797" y="630" font-size="7">Dgkd</text></g>
<g id="nB-Ldha"><circle cx="704" cy="745" r="6" fill="#eaa0a0"/><text class="t" x="704" y="745" font-size="7">Ldha</text></g>
<g id="nB-Ephx2"><circle cx="624" cy="757" r="7" fill="#d42a2a"/><text class="t" x="624" y="757" font-size="6.5">Ephx2</text></g>
<g id="nB-Tcf7l2"><circle cx="646" cy="791" r="7" fill="#d43030"/><text class="t" x="646" y="791" font-size="6.5">Tcf7l2</text></g>
<g id="nB-Lcat"><circle cx="603" cy="802" r="5" fill="#e06060"/><text class="t" x="603" y="802" font-size="7">Lcat</text></g>
<g id="nB-Fa2h"><circle cx="427" cy="811" r="8" fill="#e07070"/><text class="t" x="427" y="811" font-size="7">Fa2h</text></g>
<g id="nB-Pla2g4a"><circle cx="457" cy="826" r="8" fill="#d43030"/><text class="t" x="457" y="826" font-size="6.5">Pla2g4a</text></g>
<g id="nB-Ptgs2"><circle cx="505" cy="837" r="8" fill="#d42a2a"/><text class="t" x="505" y="837" font-size="6.5">Ptgs2</text></g>

<g id="miB-3961"><use href="#triB" x="58" y="568" class="mi"/><text class="t" x="58" y="568" font-size="6.8">mmu-mir-3961</text></g>
<g id="miB-379-5p"><use href="#triB" x="43" y="587" class="mi"/><text class="t" x="43" y="587" font-size="6.8">mmu-mir-379-5p</text></g>
<g id="miB-433-5p"><use href="#triB" x="45" y="608" class="mi"/><text class="t" x="45" y="608" font-size="6.8">mmu-mir-433-5p</text></g>
<g id="miB-181c-5p"><use href="#triB" x="228" y="597" class="mi"/><text class="t" x="228" y="597" font-size="6.8">mmu-mir-181c-5p</text></g>
<g id="miB-33-5p"><use href="#triB" x="229" y="621" class="mi"/><text class="t" x="229" y="621" font-size="6.8">mmu-mir-33-5p</text></g>
<g id="miB-3968"><use href="#triB" x="276" y="565" class="mi"/><text class="t" x="276" y="565" font-size="6.8">mmu-mir-3968</text></g>
<g id="miB-21a-5p"><use href="#triB" x="261" y="579" class="mi"/><text class="t" x="261" y="579" font-size="6.8">mmu-mir-21a-5p</text></g>
<g id="miB-369-3p"><use href="#triB" x="403" y="591" class="mi"/><text class="t" x="403" y="591" font-size="6.8">mmu-mir-369-3p</text></g>
<g id="miB-153-3p"><use href="#triB" x="447" y="600" class="mi"/><text class="t" x="447" y="600" font-size="6.8">mmu-mir-153-3p</text></g>
<g id="miB-301a-3p"><use href="#triB" x="474" y="611" class="mi"/><text class="t" x="474" y="611" font-size="6.8">mmu-mir-301a-3p</text></g>
<g id="miB-19b-3p"><use href="#triB" x="505" y="630" class="mi"/><text class="t" x="505" y="630" font-size="6.8">mmu-mir-19b-3p</text></g>
<g id="miB-1983"><use href="#triB" x="356" y="623" class="mi"/><text class="t" x="356" y="623" font-size="6.8">mmu-mir-1983</text></g>
<g id="miB-144-3p"><use href="#triB" x="320" y="665" class="mi"/><text class="t" x="320" y="665" font-size="6.8">mmu-mir-144-3p</text></g>
<g id="miB-3106-5p"><use href="#triB" x="258" y="693" class="mi"/><text class="t" x="258" y="693" font-size="6.8">mmu-mir-3106-5p</text></g>
<g id="miB-677-5p"><use href="#triB" x="178" y="689" class="mi"/><text class="t" x="178" y="689" font-size="6.8">mmu-mir-677-5p</text></g>
<g id="miB-207"><use href="#triB" x="175" y="730" class="mi"/><text class="t" x="175" y="730" font-size="6.8">mmu-mir-207</text></g>
<g id="miB-32-5p"><use href="#triB" x="153" y="763" class="mi"/><text class="t" x="153" y="763" font-size="6.8">mmu-mir-32-5p</text></g>
<g id="miB-138-2-3p"><use href="#triB" x="135" y="786" class="mi"/><text class="t" x="135" y="786" font-size="6.8">mmu-mir-138-2-3p</text></g>
<g id="miB-9-3p"><use href="#triB" x="328" y="717" class="mi"/><text class="t" x="328" y="717" font-size="6.8">mmu-mir-9-3p</text></g>
<g id="miB-130a-3p"><use href="#triB" x="426" y="713" class="mi"/><text class="t" x="426" y="713" font-size="6.8">mmu-mir-130a-3p</text></g>
<g id="miB-377-3p"><use href="#triB" x="282" y="810" class="mi"/><text class="t" x="282" y="810" font-size="6.8">mmu-mir-377-3p</text></g>
<g id="miB-1264-3p"><use href="#triB" x="293" y="826" class="mi"/><text class="t" x="293" y="826" font-size="6.8">mmu-mir-1264-3p</text></g>
<g id="miB-7a-5p"><use href="#triB" x="301" y="844" class="mi"/><text class="t" x="301" y="844" font-size="6.8">mmu-mir-7a-5p</text></g>
<g id="miB-338-3p"><use href="#triB" x="397" y="848" class="mi"/><text class="t" x="397" y="848" font-size="6.8">mmu-mir-338-3p</text></g>
<g id="miB-3103-5p"><use href="#triB" x="742" y="651" class="mg"/><text class="t" x="742" y="651" font-size="6.8">mmu-mir-3103-5p</text></g>
<g id="miB-1192"><use href="#triB" x="712" y="800" class="mg"/><text class="t" x="712" y="800" font-size="6.8">mmu-mir-1192</text></g>

<g id="legend-bottom">
<rect x="704" y="562" width="65" height="11" fill="url(#rg)"/>
<text class="lg" x="704" y="576" font-size="3">-0.75</text>
<text class="lg" x="734" y="576" font-size="3">0.0</text>
<text class="lg" x="764" y="576" font-size="3">1.00</text>
<rect x="704" y="579" width="65" height="11" fill="url(#bg)"/>
<text class="lg" x="704" y="593" font-size="3">-1.00</text>
<text class="lg" x="764" y="593" font-size="3">0.00</text>
<rect x="704" y="596" width="3" height="3" fill="#c8d8ec"/>
<text class="lg" x="709" y="599" font-size="3">GO</text>
<path d="M724,596L726,599H722Z" fill="none" stroke="#555" stroke-width=".4"/>
<text class="lg" x="728" y="599" font-size="3">miRNA</text>
<circle cx="744" cy="597.5" r="1.6" fill="none" stroke="#555" stroke-width=".4"/>
<text class="lg" x="747" y="599" font-size="3">mRNA</text>
</g>
</svg>
